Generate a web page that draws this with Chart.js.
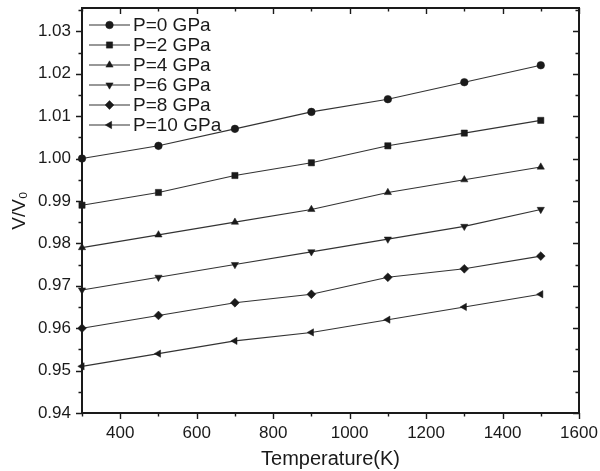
<!DOCTYPE html>
<html>
<head>
<meta charset="utf-8">
<script src="https://cdn.jsdelivr.net/npm/chart.js@4.4.1/dist/chart.umd.min.js"></script>
<style>
  html, body { margin: 0; background: #fff; }
  #wrap { width: 600px; height: 471px; }
</style>
</head>
<body>
<div id="wrap"><canvas id="c" width="600" height="471"></canvas></div>
<script>
// V/V0 vs temperature at several pressures.
const TEMPS = [300, 500, 700, 900, 1100, 1300, 1500];
const P0  = [1.000, 1.003, 1.007, 1.011, 1.014, 1.018, 1.022];
const P2  = [0.989, 0.992, 0.996, 0.999, 1.003, 1.006, 1.009];
const P4  = [0.979, 0.982, 0.985, 0.988, 0.992, 0.995, 0.998];
const P6  = [0.969, 0.972, 0.975, 0.978, 0.981, 0.984, 0.988];
const P8  = [0.960, 0.963, 0.966, 0.968, 0.972, 0.974, 0.977];
const P10 = [0.951, 0.954, 0.957, 0.959, 0.962, 0.965, 0.968];
const SERIES_LABELS = ['P=0 GPa', 'P=2 GPa', 'P=4 GPa', 'P=6 GPa', 'P=8 GPa', 'P=10 GPa'];
const X_TICKS = [400, 600, 800, 1000, 1200, 1400, 1600];
const Y_TICKS = [0.94, 0.95, 0.96, 0.97, 0.98, 0.99, 1.00, 1.01, 1.02, 1.03];

const INK = '#1a1a1a';
const FONT = '"Liberation Sans", Arial, sans-serif';

// marker shape per series: circle, square, up/down/left triangles, diamond
const MARKERS = [
  { style: 'circle',   rot: 0,   r: 3.8 },
  { style: 'rect',     rot: 0,   r: 4.4 },
  { style: 'triangle', rot: 0,   r: 4.2 },
  { style: 'triangle', rot: 180, r: 4.2 },
  { style: 'rectRot',  rot: 0,   r: 4.4 },
  { style: 'triangle', rot: -90, r: 4.2 },
];

const SERIES = [P0, P2, P4, P6, P8, P10];

const datasets = SERIES.map((vals, i) => ({
  label: SERIES_LABELS[i],
  data: TEMPS.map((t, k) => ({ x: t, y: vals[k] })),
  borderColor: '#333',
  borderWidth: 1.1,
  backgroundColor: INK,
  pointBackgroundColor: INK,
  pointBorderColor: INK,
  pointBorderWidth: 0.5,
  pointStyle: MARKERS[i].style,
  pointRotation: MARKERS[i].rot,
  pointRadius: MARKERS[i].r,
  tension: 0,
  clip: false,
}));

// Frame with outward ticks on the bottom/left and inward ticks on top/right.
const frameTicks = {
  id: 'frameTicks',
  afterDraw(chart) {
    const { ctx, chartArea: a } = chart;
    const x = chart.scales.x, y = chart.scales.y;
    ctx.save();
    ctx.strokeStyle = INK;
    ctx.lineWidth = 1.4;
    ctx.beginPath();
    for (let v = x.min; v <= x.max + 1e-6; v += 100) {
      const px = Math.round(x.getPixelForValue(v)) + 0.5;
      const major = X_TICKS.includes(v);
      const len = major ? 6 : 3.5;
      ctx.moveTo(px, a.bottom); ctx.lineTo(px, a.bottom + len);
      ctx.moveTo(px, a.top);    ctx.lineTo(px, a.top + len);
    }
    for (let k = 0; ; k++) {
      const v = Y_TICKS[0] + k * 0.005;
      if (v > y.max + 1e-9) break;
      const py = Math.round(y.getPixelForValue(v)) + 0.5;
      const len = k % 2 === 0 ? 6 : 3.5;
      ctx.moveTo(a.left, py);  ctx.lineTo(a.left - len, py);
      ctx.moveTo(a.right, py); ctx.lineTo(a.right - len, py);
    }
    ctx.stroke();
    ctx.lineWidth = 2;
    ctx.strokeRect(a.left, a.top, a.right - a.left, a.bottom - a.top);
    ctx.restore();
  },
};

// Origin-style legend: short line with the marker in its middle, then text.
const lineLegend = {
  id: 'lineLegend',
  afterDatasetsDraw(chart) {
    const { ctx } = chart;
    ctx.save();
    ctx.font = '19px ' + FONT;
    ctx.textBaseline = 'middle';
    chart.data.datasets.forEach((ds, i) => {
      const yy = 25 + i * 20;
      ctx.strokeStyle = '#333';
      ctx.lineWidth = 1.1;
      ctx.beginPath();
      ctx.moveTo(89, yy); ctx.lineTo(130, yy);
      ctx.stroke();
      ctx.fillStyle = INK;
      ctx.strokeStyle = INK;
      ctx.lineWidth = 0.5;
      Chart.helpers.drawPoint(ctx, {
        pointStyle: ds.pointStyle, rotation: ds.pointRotation,
        radius: ds.pointRadius, borderWidth: 0.5,
      }, 109.5, yy);
      ctx.fillStyle = INK;
      ctx.fillText(ds.label, 133, yy + 1);
    });
    ctx.restore();
  },
};

new Chart(document.getElementById('c'), {
  type: 'line',
  data: { datasets },
  plugins: [frameTicks, lineLegend],
  options: {
    responsive: false,
    animation: false,
    devicePixelRatio: 1,
    layout: { padding: { top: 8, right: 21, left: 0, bottom: 0 } },
    plugins: { legend: { display: false }, tooltip: { enabled: false } },
    scales: {
      x: {
        type: 'linear',
        min: 300,
        max: 1600,
        afterBuildTicks: (s) => { s.ticks = X_TICKS.map((v) => ({ value: v })); },
        afterFit: (s) => { s.height = 58; s.paddingLeft = 0; s.paddingRight = 0; },
        grid: { drawOnChartArea: false, drawTicks: false },
        border: { display: false },
        ticks: {
          color: INK, padding: 10, font: { family: FONT, size: 17 },
          callback: (v) => String(v),
        },
        title: {
          display: true, text: 'Temperature(K)', color: INK,
          padding: { top: 4, bottom: 0 }, font: { family: FONT, size: 20 },
        },
      },
      y: {
        type: 'linear',
        min: 0.94,
        max: 1.0355,
        afterBuildTicks: (s) => { s.ticks = Y_TICKS.map((v) => ({ value: v })); },
        afterFit: (s) => { s.width = 82; s.paddingTop = 0; s.paddingBottom = 0; },
        grid: { drawOnChartArea: false, drawTicks: false },
        border: { display: false },
        ticks: {
          color: INK, padding: 11, font: { family: FONT, size: 17 },
          callback: (v) => v.toFixed(2),
        },
        title: {
          display: true, text: 'V/V₀', color: INK,
          padding: { top: 8, bottom: 2 }, font: { family: FONT, size: 19 },
        },
      },
    },
  },
});
</script>
</body>
</html>
